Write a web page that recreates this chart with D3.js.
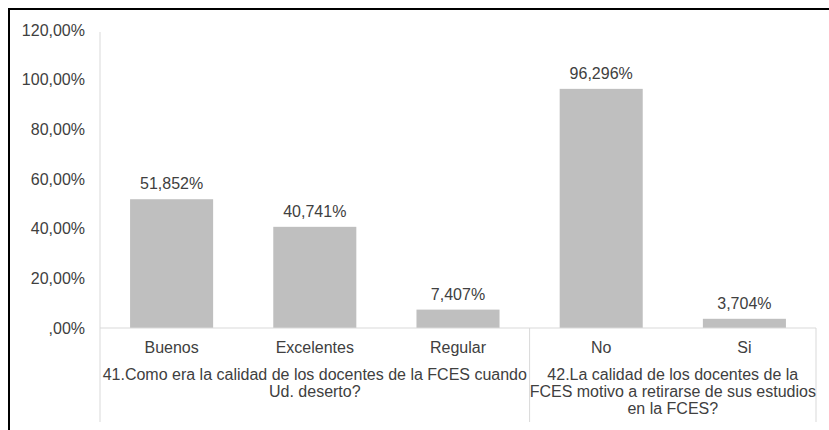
<!DOCTYPE html>
<html><head><meta charset="utf-8">
<script src="https://cdn.jsdelivr.net/npm/d3@7"></script>
<style>body{margin:0;background:#fff}svg{display:block}text{font-family:"Liberation Sans",Arial,sans-serif}</style>
</head><body><svg id="c" width="829" height="430"></svg>
<script>
const categories = ["Buenos","Excelentes","Regular","No","Si"];
const values = [51.852, 40.741, 7.407, 96.296, 3.704];
const valueLabels = ["51,852%","40,741%","7,407%","96,296%","3,704%"];
const groups = [
  {lines:["41.Como era la calidad de los docentes de la FCES cuando","Ud. deserto?"], start:0, end:3},
  {lines:["42.La calidad de los docentes de la","FCES motivo a retirarse de sus estudios","en la FCES?"], start:3, end:5}
];
const yTicks = [0,20,40,60,80,100,120];
const yTickLabels = [",00%","20,00%","40,00%","60,00%","80,00%","100,00%","120,00%"];

const svg = d3.select("#c");
const mLeft = 100, mRight = 816, mTop = 30, mBottom = 328;
const x = d3.scaleBand().domain(categories).range([mLeft,mRight]).paddingInner(0.42).paddingOuter(0.21);
const y = d3.scaleLinear().domain([0,120]).range([mBottom,mTop]);
const textColor = "#404040";
const fs = "16px";

// frame (top & left black edges)
svg.append("line").attr("x1",8).attr("x2",829).attr("y1",9).attr("y2",9).attr("stroke","#000").attr("stroke-width",2);
svg.append("line").attr("x1",9).attr("x2",9).attr("y1",8).attr("y2",430).attr("stroke","#000").attr("stroke-width",2);

// y axis
const yAxis = d3.axisLeft(y).tickValues(yTicks).tickSize(0).tickPadding(15)
  .tickFormat((d,i)=>yTickLabels[i]);
const ga = svg.append("g").attr("transform",`translate(${mLeft},0)`).call(yAxis);
ga.select(".domain").remove();
ga.selectAll("text").attr("fill",textColor).style("font-size",fs);
svg.append("line").attr("x1",mLeft).attr("x2",mLeft).attr("y1",mTop+2).attr("y2",mBottom).attr("stroke","#d9d9d9");

// bars
svg.selectAll("rect.bar").data(values).join("rect").attr("class","bar")
  .attr("x",(d,i)=>x(categories[i])).attr("width",x.bandwidth())
  .attr("y",d=>y(d)).attr("height",d=>mBottom-y(d)).attr("fill","#bfbfbf");

// value labels
svg.selectAll("text.val").data(values).join("text").attr("class","val")
  .attr("x",(d,i)=>x(categories[i])+x.bandwidth()/2).attr("y",d=>y(d)-10)
  .attr("text-anchor","middle").attr("fill",textColor).style("font-size",fs)
  .text((d,i)=>valueLabels[i]);

// baseline
svg.append("line").attr("x1",mLeft).attr("x2",mRight).attr("y1",mBottom).attr("y2",mBottom).attr("stroke","#d9d9d9");

// group separators
const step = x.step();
const xb = i => mLeft + i*step;
[0,3,5].forEach(i=>{
  svg.append("line").attr("x1",xb(i)).attr("x2",xb(i)).attr("y1",mBottom).attr("y2",422).attr("stroke","#d9d9d9");
});

// category labels
svg.selectAll("text.cat").data(categories).join("text").attr("class","cat")
  .attr("x",d=>x(d)+x.bandwidth()/2).attr("y",353).attr("text-anchor","middle")
  .attr("fill",textColor).style("font-size",fs).text(d=>d);

// group labels
groups.forEach(g=>{
  const cx = (xb(g.start)+xb(g.end))/2;
  g.lines.forEach((t,j)=>{
    svg.append("text").attr("x",cx).attr("y",380+j*17).attr("text-anchor","middle")
      .attr("fill",textColor).style("font-size",fs).text(t);
  });
});
</script></body></html>
